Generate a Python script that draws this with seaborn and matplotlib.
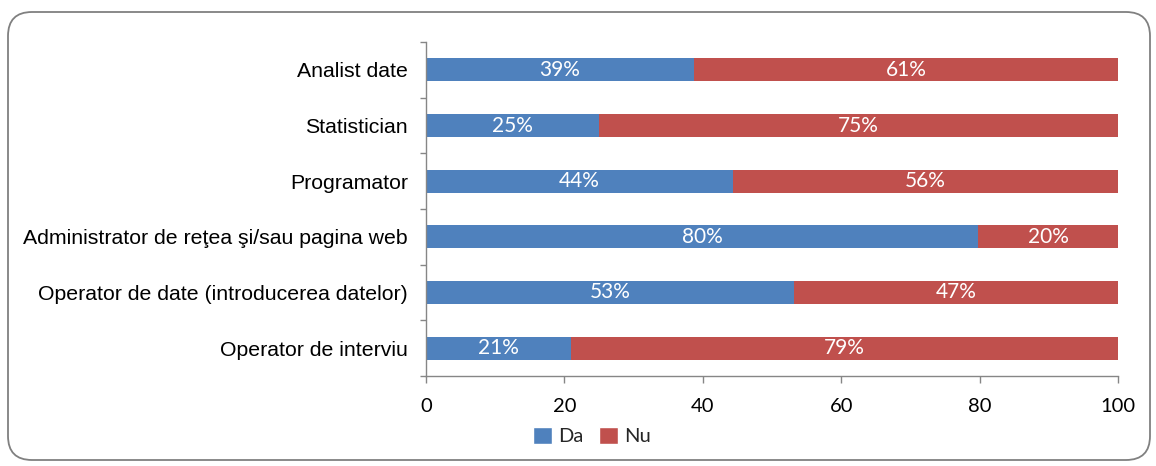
import matplotlib
matplotlib.use("Agg")
import matplotlib.pyplot as plt
import seaborn as sns
import numpy as np
import pandas as pd
from matplotlib.patches import FancyBboxPatch, Patch
from matplotlib.ticker import FixedLocator

categories = ["Analist date", "Statistician", "Programator",
              "Administrator de reţea şi/sau pagina web",
              "Operator de date (introducerea datelor)", "Operator de interviu"]
da = [38.7, 25.0, 44.4, 79.8, 53.2, 21.0]
nu = [61.3, 75.0, 55.6, 20.2, 46.8, 79.0]
da_labels = ["39%", "25%", "44%", "80%", "53%", "21%"]
nu_labels = ["61%", "75%", "56%", "20%", "47%", "79%"]
x_ticks = [0, 20, 40, 60, 80, 100]

BLUE = "#4F81BD"
RED = "#C0504D"
GRAY = "#868686"
LATO = ["Lato", "DejaVu Sans"]

sns.set_theme(style="white")
plt.rcParams["font.family"] = ["Liberation Sans", "DejaVu Sans"]

fig = plt.figure(figsize=(11.56, 4.66), dpi=100)
ax = fig.add_axes([426/1156, 1-376/466, (1118-426)/1156, (376-42)/466])

df = pd.DataFrame({"cat": categories, "da": da, "nu": nu})
df["total"] = df["da"] + df["nu"]

sns.barplot(data=df, y="cat", x="total", color=RED, width=0.41, saturation=1,
            ax=ax, orient="h", edgecolor="none")
sns.barplot(data=df, y="cat", x="da", color=BLUE, width=0.41, saturation=1,
            ax=ax, orient="h", edgecolor="none")

for i, (d, n) in enumerate(zip(da, nu)):
    ax.text(d/2, i, da_labels[i], ha="center", va="center", color="white",
            fontsize=15, family=LATO)
    ax.text(d + n/2, i, nu_labels[i], ha="center", va="center", color="white",
            fontsize=15, family=LATO)

ax.set_xlim(0, 100)
ax.set_ylim(len(categories)-0.5, -0.5)
ax.set_xticks(x_ticks)
ax.set_xticklabels([str(t) for t in x_ticks], fontsize=14.5, family=LATO)
ax.set_xlabel("")
ax.set_ylabel("")
ax.set_yticks(range(len(categories)))
ax.set_yticklabels(categories, fontsize=15.3)
ax.yaxis.set_minor_locator(FixedLocator(np.arange(-0.5, len(categories), 1.0)))
ax.tick_params(axis="y", which="major", length=0, pad=13, colors="black")
ax.tick_params(axis="y", which="minor", left=True, length=4, width=1, color=GRAY, direction="out")
ax.tick_params(axis="x", which="major", bottom=True, length=5, width=1, color=GRAY,
               direction="out", pad=11, labelcolor="black")
for s in ["top", "right"]:
    ax.spines[s].set_visible(False)
for s in ["left", "bottom"]:
    ax.spines[s].set_color(GRAY)
    ax.spines[s].set_linewidth(1)
ax.grid(False)

handles = [Patch(facecolor=BLUE, label="Da"), Patch(facecolor=RED, label="Nu")]
fig.legend(handles=handles, loc="center", bbox_to_anchor=(592/1156, 1-436/466), ncol=2,
           frameon=False, handlelength=0.95, handleheight=0.95, handletextpad=0.3,
           columnspacing=0.8, borderpad=0, prop={"family": LATO, "size": 14.5})

border = FancyBboxPatch((0.08, 0.06), 11.42, 4.48,
                        boxstyle="round,pad=0,rounding_size=0.24",
                        transform=fig.dpi_scale_trans, facecolor="none",
                        edgecolor="#808080", linewidth=1.3)
fig.patches.append(border)

fig.savefig("out.png", dpi=100)
